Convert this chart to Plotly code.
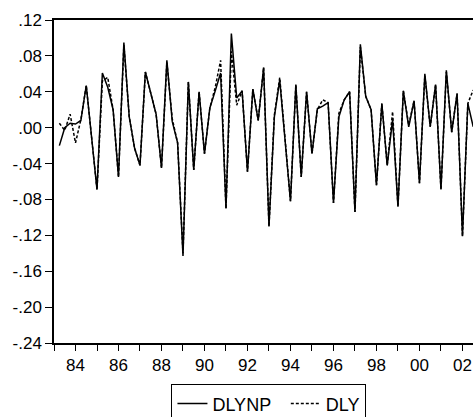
import plotly.graph_objects as go

years = list(range(1983, 2003))
# quarterly observations 1983Q2 .. 2002Q3
quarters = [(1983, q) for q in (2, 3, 4)] + [(y, q) for y in range(1984, 2002) for q in (1, 2, 3, 4)] + [(2002, q) for q in (1, 2, 3)]
x_time = [y + (q - 1) / 4 for y, q in quarters]

dlynp = [-0.020, 0.000, 0.005,
         0.004, 0.008, 0.047, -0.011,
         -0.069, 0.061, 0.045, 0.020,
         -0.055, 0.095, 0.012, -0.023,
         -0.042, 0.062, 0.040, 0.015,
         -0.045, 0.075, 0.007, -0.017,
         -0.143, 0.051, -0.047, 0.040,
         -0.029, 0.022, 0.041, 0.061,
         -0.090, 0.105, 0.033, 0.041,
         -0.049, 0.043, 0.008, 0.067,
         -0.110, 0.012, 0.053, -0.015,
         -0.082, 0.048, -0.055, 0.040,
         -0.029, 0.021, 0.024, 0.028,
         -0.084, 0.012, 0.031, 0.040,
         -0.094, 0.093, 0.035, 0.020,
         -0.064, 0.027, -0.042, 0.009,
         -0.088, 0.041, 0.001, 0.030,
         -0.062, 0.060, 0.001, 0.048,
         -0.069, 0.064, -0.005, 0.038,
         -0.121, 0.027, 0.001]

dly = [0.005, -0.003, 0.015,
       -0.017, 0.009, 0.047, -0.011,
       -0.069, 0.052, 0.056, 0.020,
       -0.055, 0.092, 0.012, -0.023,
       -0.042, 0.062, 0.040, 0.015,
       -0.045, 0.073, 0.010, -0.017,
       -0.140, 0.051, -0.047, 0.040,
       -0.029, 0.022, 0.045, 0.075,
       -0.090, 0.085, 0.025, 0.041,
       -0.049, 0.043, 0.008, 0.067,
       -0.110, 0.014, 0.056, -0.015,
       -0.082, 0.048, -0.055, 0.040,
       -0.029, 0.020, 0.031, 0.028,
       -0.084, 0.016, 0.031, 0.040,
       -0.094, 0.090, 0.035, 0.020,
       -0.064, 0.027, -0.042, 0.018,
       -0.088, 0.041, 0.003, 0.030,
       -0.062, 0.058, 0.001, 0.048,
       -0.069, 0.062, -0.005, 0.038,
       -0.121, 0.027, 0.042]

y_ticks = [0.12, 0.08, 0.04, 0.00, -0.04, -0.08, -0.12, -0.16, -0.20, -0.24]
y_labels = [".12", ".08", ".04", ".00", "-.04", "-.08", "-.12", "-.16", "-.20", "-.24"]
x_labels = [str(y)[-2:] if y % 2 == 0 else "" for y in years]

fig = go.Figure()
fig.add_trace(go.Scatter(x=x_time, y=dlynp, mode="lines", name="DLYNP  ",
                         line=dict(color="black", width=1.5)))
fig.add_trace(go.Scatter(x=x_time, y=dly, mode="lines", name="DLY",
                         line=dict(color="black", width=1.5, dash="3px,2px")))

font = "Liberation Sans, Arial, sans-serif"
fig.update_layout(
    width=473, height=417,
    margin=dict(l=54, r=0, t=20, b=74, autoexpand=False),
    paper_bgcolor="white", plot_bgcolor="white",
    font=dict(family=font, size=17, color="black"),
    showlegend=True,
    legend=dict(orientation="h", x=0.513, xanchor="center", y=-0.128, yanchor="top",
                bordercolor="black", borderwidth=1, font=dict(size=18),
                bgcolor="white"),
    xaxis=dict(range=[1983, 2002.49], tickvals=years, ticktext=x_labels,
               ticks="outside", ticklen=6, tickcolor="black", tickwidth=1,
               showline=True, linecolor="black", linewidth=1.5, mirror=True,
               showgrid=False, zeroline=False, automargin=False),
    yaxis=dict(range=[-0.24, 0.12], tickvals=y_ticks, ticktext=y_labels,
               ticks="outside", ticklen=7, tickcolor="black", tickwidth=1,
               showline=True, linecolor="black", linewidth=1.5,
               showgrid=False, zeroline=False, automargin=False),
)

fig.write_html("out.html", config={"displayModeBar": False},
               post_script="document.body.style.margin='0';document.body.style.overflow='hidden';")
